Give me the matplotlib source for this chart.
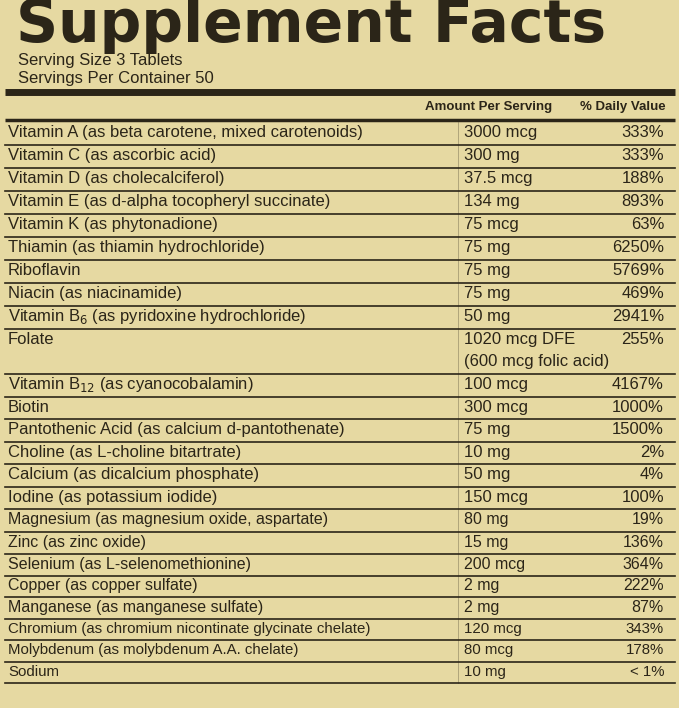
import matplotlib
matplotlib.use("Agg")
import matplotlib.pyplot as plt

nutrients = [
    "Vitamin A (as beta carotene, mixed carotenoids)",
    "Vitamin C (as ascorbic acid)",
    "Vitamin D (as cholecalciferol)",
    "Vitamin E (as d-alpha tocopheryl succinate)",
    "Vitamin K (as phytonadione)",
    "Thiamin (as thiamin hydrochloride)",
    "Riboflavin",
    "Niacin (as niacinamide)",
    "Vitamin B$_6$ (as pyridoxine hydrochloride)",
    "Folate",
    "Vitamin B$_{12}$ (as cyanocobalamin)",
    "Biotin",
    "Pantothenic Acid (as calcium d-pantothenate)",
    "Choline (as L-choline bitartrate)",
    "Calcium (as dicalcium phosphate)",
    "Iodine (as potassium iodide)",
    "Magnesium (as magnesium oxide, aspartate)",
    "Zinc (as zinc oxide)",
    "Selenium (as L-selenomethionine)",
    "Copper (as copper sulfate)",
    "Manganese (as manganese sulfate)",
    "Chromium (as chromium nicontinate glycinate chelate)",
    "Molybdenum (as molybdenum A.A. chelate)",
    "Sodium",
]
amounts = [
    "3000 mcg", "300 mg", "37.5 mcg", "134 mg", "75 mcg", "75 mg", "75 mg",
    "75 mg", "50 mg", "1020 mcg DFE\n(600 mcg folic acid)", "100 mcg", "300 mcg",
    "75 mg", "10 mg", "50 mg", "150 mcg", "80 mg", "15 mg", "200 mcg", "2 mg",
    "2 mg", "120 mcg", "80 mcg", "10 mg",
]
daily_values = [
    "333%", "333%", "188%", "893%", "63%", "6250%", "5769%", "469%", "2941%",
    "255%", "4167%", "1000%", "1500%", "2%", "4%", "100%", "19%", "136%",
    "364%", "222%", "87%", "343%", "178%", "< 1%",
]

W, H = 679, 708
bg = "#e6d9a2"
ink = "#2b2518"

fig = plt.figure(figsize=(W / 100, H / 100), dpi=100, facecolor=bg)
ax = fig.add_axes([0, 0, 1, 1])
ax.set_xlim(0, W)
ax.set_ylim(H, 0)
ax.axis("off")
ax.set_facecolor(bg)

plt.rcParams["font.family"] = ["Liberation Sans", "DejaVu Sans"]

ax.text(16, 26, "Supplement Facts", fontsize=42, fontweight="heavy",
        family="DejaVu Sans", color=ink, va="center", ha="left")
ax.text(18, 61, "Serving Size 3 Tablets", fontsize=12, color=ink, va="center")
ax.text(18, 78, "Servings Per Container 50", fontsize=12, color=ink, va="center")
ax.plot([5, 675], [92, 92], color=ink, lw=5, solid_capstyle="butt")
ax.text(552, 107, "Amount Per Serving", fontsize=9.5, fontweight="bold",
        color=ink, ha="right", va="center")
ax.text(666, 107, "% Daily Value", fontsize=9.5, fontweight="bold",
        color=ink, ha="right", va="center")
ax.plot([5, 675], [120, 120], color=ink, lw=2.5, solid_capstyle="butt")

y = 122
for i, (name, amt, dv) in enumerate(zip(nutrients, amounts, daily_values)):
    rows = amt.count("\n") + 1
    h = 23 if i < 9 else (22.5 if i < 18 else 21.5)
    fs = 12 if i < 16 else 11.5 if i < 21 else 10.8
    line_h = h * 0.95
    ax.text(8, y + line_h / 2, name, fontsize=fs, color=ink, va="center")
    for k, part in enumerate(amt.split("\n")):
        ax.text(464, y + line_h / 2 + k * line_h, part, fontsize=fs, color=ink, va="center")
    ax.text(664, y + line_h / 2, dv, fontsize=fs, color=ink, va="center", ha="right")
    y += h * rows
    ax.plot([5, 675], [y, y], color=ink, lw=1.2)
ax.plot([458, 458], [122, y], color=ink, lw=0.5, alpha=0.4)

fig.savefig("out.png", dpi=100, facecolor=bg)
